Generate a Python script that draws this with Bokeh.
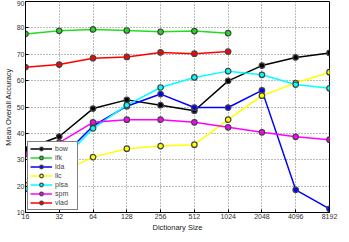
from bokeh.plotting import figure
from bokeh.models import FixedTicker, BasicTickFormatter, Legend, LegendItem
from bokeh.embed import file_html
from bokeh.resources import INLINE

sizes = [16, 32, 64, 128, 256, 512, 1024, 2048, 4096, 8192]
y_ticks = [10, 20, 30, 40, 50, 60, 70, 80, 90]
bow  = [34.0, 38.8, 49.4, 52.7, 50.7, 48.6, 59.9, 65.7, 68.8, 70.5]
ifk  = [77.7, 78.9, 79.4, 79.0, 78.5, 78.8, 78.0]
lda  = [19.5, 30.0, 42.8, 50.3, 54.9, 49.8, 49.8, 56.3, 18.6, 11.4]
llc  = [20.4, 25.0, 31.0, 34.2, 35.2, 35.7, 45.2, 54.3, 59.1, 63.2]
plsa = [19.0, 28.5, 41.9, 50.7, 57.4, 61.2, 63.6, 62.2, 58.5, 57.1]
spm  = [32.1, 36.5, 44.2, 45.2, 45.2, 44.2, 42.3, 40.4, 38.7, 37.6]
vlad = [65.1, 66.1, 68.5, 69.0, 70.7, 70.2, 71.0]

series = [
    ("bow", bow, "#000000"),
    ("ifk", ifk, "#22dd22"),
    ("lda", lda, "#0000ff"),
    ("llc", llc, "#ffff00"),
    ("plsa", plsa, "#00ffff"),
    ("spm", spm, "#ff00ff"),
    ("vlad", vlad, "#ff0000"),
]

FONT = "Liberation Sans"

p = figure(width=339, height=234, output_backend="svg", toolbar_location=None,
           x_axis_type="log", x_range=(16, 8192), y_range=(10, 90),
           min_border_left=4, min_border_top=1, min_border_right=10, min_border_bottom=0)
p.background_fill_color = "white"
p.border_fill_color = "white"
p.outline_line_color = "black"
p.outline_line_width = 1

p.xaxis.ticker = FixedTicker(ticks=sizes)
p.xaxis.formatter = BasicTickFormatter()
p.yaxis.ticker = FixedTicker(ticks=y_ticks)
p.xaxis.axis_label = "Dictionary Size"
p.yaxis.axis_label = "Mean Overall Accuracy"
for ax in (p.xaxis, p.yaxis):
    ax.axis_label_text_font = FONT
    ax.axis_label_text_font_size = "7.5px"
    ax.axis_label_text_font_style = "normal"
    ax.axis_label_text_color = "#222222"
    ax.axis_label_standoff = 1
    ax.major_label_text_font = FONT
    ax.major_label_text_font_size = "7px"
    ax.major_label_text_color = "#333333"
    ax.major_label_standoff = 1
    ax.major_tick_in = 3
    ax.major_tick_out = 0
    ax.minor_tick_in = 0
    ax.minor_tick_out = 0
    ax.axis_line_color = "black"

p.xgrid.ticker = FixedTicker(ticks=sizes)
p.ygrid.ticker = FixedTicker(ticks=y_ticks)
for g in (p.xgrid, p.ygrid):
    g.grid_line_color = "#777777"
    g.grid_line_dash = "1 2"
    g.grid_line_width = 1

items = []
for name, vals, color in series:
    xs = sizes[:len(vals)]
    r1 = p.line(xs, vals, line_color=color, line_width=1.5)
    r2 = p.scatter(xs, vals, size=5.5, fill_color=color, line_color="#444444", line_width=1.2)
    items.append(LegendItem(label=name, renderers=[r1, r2]))

legend = Legend(items=items, location="bottom_left")
legend.label_text_font = FONT
legend.label_text_font_size = "7px"
legend.label_height = 9
legend.glyph_height = 9
legend.glyph_width = 22
legend.spacing = 0
legend.padding = 2
legend.margin = 2
legend.label_standoff = 3
legend.border_line_color = "black"
legend.border_line_width = 1
legend.background_fill_alpha = 1
p.add_layout(legend)

open("out.html", "w").write(file_html(p, INLINE))
